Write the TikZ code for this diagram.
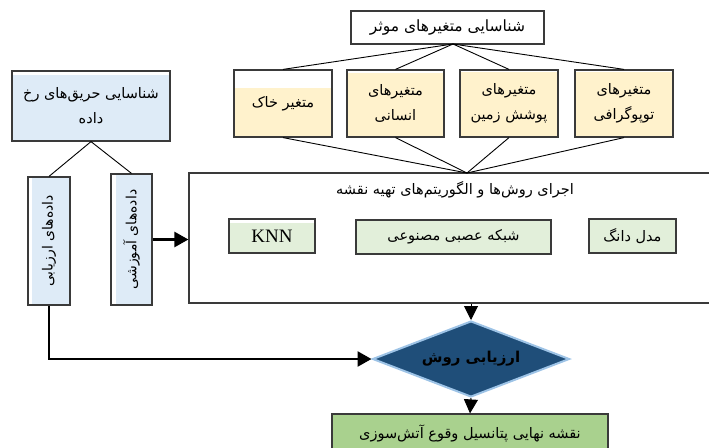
\documentclass[tikz,border=0pt]{standalone}
\usepackage{fontspec}
\usepackage{graphicx}
\setmainfont{Liberation Serif}
\newfontfamily\farsi[Script=Arabic]{DejaVu Sans}
\TeXXeTstate=1
\usetikzlibrary{shapes.geometric,arrows.meta}
\newcommand{\fatxt}[1]{{\farsi\beginR #1\endR}}
\definecolor{yel}{HTML}{FFF2CC}
\definecolor{blu}{HTML}{DEEBF7}
\definecolor{grn}{HTML}{E2EFDA}
\definecolor{fgrn}{HTML}{A9D18E}
\definecolor{dblue}{HTML}{1F4E79}
\definecolor{lblue}{HTML}{9DC3E6}
\definecolor{edge}{HTML}{3A3A3A}
\tikzset{
  box/.style={draw=edge, line width=1.2pt, inner sep=0pt, align=center,
    font=\fontsize{14.5}{25}\selectfont},
  topgap/.style 2 args={path picture={\fill[#1]
      ([yshift=-#2]path picture bounding box.north west) rectangle
      (path picture bounding box.south east);}},
  leftgap/.style 2 args={path picture={\fill[#1]
      ([xshift=#2]path picture bounding box.north west) rectangle
      (path picture bounding box.south east);}},
  link/.style={draw=black, line width=0.9pt},
  arr/.style={draw=black, line width=1pt, -{Triangle[length=14pt,width=14pt]}},
  fatarr/.style={draw=black, line width=2.6pt, -{Triangle[length=14pt,width=15pt]}},
}
\begin{document}
\begin{tikzpicture}[x=1pt,y=-1pt]
\useasboundingbox (0,0) rectangle (709,447);

% top row
\node[box, fill=white, minimum width=193pt, minimum height=33pt,
  font=\fontsize{15.5}{20}\selectfont] (top) at (447.5,27.5)
  {\fatxt{شناسایی متغیرهای موثر}};
\node[box, topgap={yel}{18pt}, minimum width=98pt, minimum height=67pt] (v1) at (283,103.5)
  {\raisebox{-4pt}{\fatxt{متغیر خاک}}};
\node[box, topgap={yel}{3pt}, minimum width=97pt, minimum height=67pt] (v2) at (395.5,103.5)
  {\fatxt{متغیرهای}\\ \fatxt{انسانی}};
\node[box, topgap={yel}{2pt}, minimum width=98pt, minimum height=67pt] (v3) at (509,103.5)
  {\fatxt{متغیرهای}\\ \fatxt{پوشش زمین}};
\node[box, topgap={yel}{2pt}, minimum width=98pt, minimum height=67pt] (v4) at (624,103.5)
  {\fatxt{متغیرهای}\\ \fatxt{توپوگرافی}};

% left column
\node[box, topgap={blu}{4pt}, minimum width=158pt, minimum height=70pt] (lb) at (91,106)
  {\fatxt{شناسایی حریق‌های رخ}\\ \fatxt{داده}};
\node[box, leftgap={blu}{4pt}, minimum width=42pt, minimum height=128pt,
  font=\fontsize{14}{16}\selectfont] (eval) at (49,241)
  {\rotatebox{90}{\fatxt{داده‌های ارزیابی}}};
\node[box, leftgap={blu}{5pt}, minimum width=41pt, minimum height=131pt,
  font=\fontsize{14}{16}\selectfont] (train) at (131.5,239.5)
  {\rotatebox{90}{\fatxt{داده‌های آموزشی}}};

% main box
\node[box, fill=white, minimum width=523pt, minimum height=130pt] (main) at (450.5,238) {};
\node[font=\fontsize{14.5}{16}\selectfont, inner sep=0pt] (title) at (455,190)
  {\fatxt{اجرای روش‌ها و الگوریتم‌های تهیه نقشه}};
\node[box, topgap={grn}{4pt}, minimum width=86pt, minimum height=34pt,
  font=\fontsize{19}{20}\selectfont] (knn) at (272,236) {\raisebox{-2pt}{KNN}};
\node[box, fill=grn, minimum width=195pt, minimum height=34pt] (ann) at (453.5,237)
  {\fatxt{شبکه عصبی مصنوعی}};
\node[box, fill=grn, minimum width=87pt, minimum height=34pt] (dang) at (632.5,236)
  {\fatxt{مدل دانگ}};

% evaluation diamond and result
\node[diamond, aspect=2.6, draw=lblue, line width=2pt, fill=dblue, inner sep=0pt,
  minimum width=197pt, minimum height=76pt,
  font=\fontsize{15}{16}\selectfont\bfseries] (dia) at (471,359)
  {\fatxt{ارزیابی روش}};
\node[box, fill=fgrn, minimum width=276pt, minimum height=38pt] (final) at (470,433)
  {\raisebox{2pt}{\fatxt{نقشه نهایی پتانسیل وقوع آتش‌سوزی}}};

% connectors
\coordinate (tb) at (453,44);
\coordinate (mt) at (467,173);
\foreach \v in {v1,v2,v3,v4} {
  \draw[link] (tb) -- (\v.north);
  \draw[link] (\v.south) -- (mt);
}
\draw[link] (lb.south) -- (eval.north);
\draw[link] (lb.south) -- (train.north);
\draw[fatarr] (train.east) -- (train.east -| main.west);
\draw[arr] (dia.north |- main.south) -- (dia.north);
\draw[fatarr] (eval.south) |- (dia.west);
\draw[arr] (dia.south) -- (final.north);
\end{tikzpicture}
\end{document}
